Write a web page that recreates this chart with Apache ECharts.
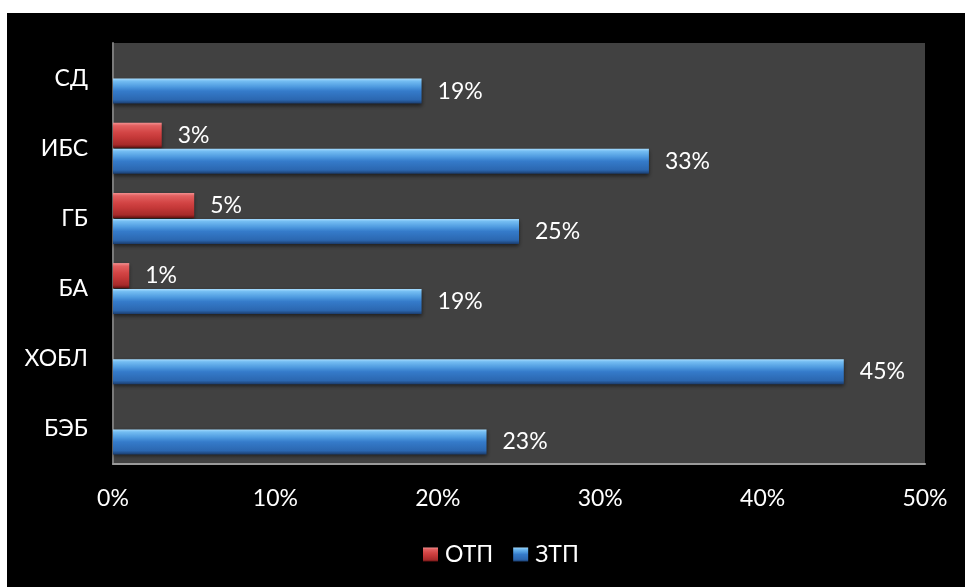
<!DOCTYPE html>
<html>
<head>
<meta charset="utf-8">
<script src="https://cdn.jsdelivr.net/npm/echarts@6/dist/echarts.min.js"></script>
<style>
  html, body { margin: 0; padding: 0; background: #fff; width: 965px; height: 587px; overflow: hidden; }
  #chart { position: absolute; left: 7px; top: 13px; width: 958px; height: 574px; background: #000; }
</style>
</head>
<body>
<div id="chart"></div>
<script>
// Categories listed bottom-to-top along the vertical axis
const categories = ['БЭБ', 'ХОБЛ', 'БА', 'ГБ', 'ИБС', 'СД'];
// Percent values per category (null = no bar)
const otpValues = [null, null, 1, 5, 3, null];
const ztpValues = [23, 45, 19, 25, 33, 19];
const seriesNames = ['ОТП', 'ЗТП'];
const xTickValues = [0, 10, 20, 30, 40, 50];

const FONT = 'Lato, "Open Sans", sans-serif';
const FONT_SIZE = 23;

function vGrad(stops) {
  return new echarts.graphic.LinearGradient(0, 0, 0, 1,
    stops.map(([o, c]) => ({ offset: o, color: c })));
}

const blueFill = vGrad([
  [0, '#a6dcff'], [0.1, '#74bdf2'], [0.32, '#4f9be0'],
  [0.5, '#357bca'], [0.85, '#2b67b0'], [1, '#1b3d6e']
]);
const redFill = vGrad([
  [0, '#f49090'], [0.12, '#e26060'], [0.4, '#d24444'],
  [0.6, '#c43838'], [0.88, '#a62a2a'], [1, '#641212']
]);

const labelStyle = {
  show: true,
  position: 'right',
  distance: 16,
  color: '#ffffff',
  fontFamily: FONT,
  fontSize: FONT_SIZE,
  formatter: p => p.value + '%'
};

const chart = echarts.init(document.getElementById('chart'), null, { renderer: 'canvas' });
chart.setOption({
  backgroundColor: '#000',
  animation: false,
  grid: {
    left: 106, top: 30, right: 40, bottom: 123,
    show: true, backgroundColor: '#414141', borderWidth: 0
  },
  legend: {
    bottom: 16,
    left: 411,
    itemWidth: 15,
    itemHeight: 14,
    itemGap: 20,
    icon: 'rect',
    textStyle: { color: '#fff', fontFamily: FONT, fontSize: FONT_SIZE, padding: [0, 0, 0, 2] },
    data: seriesNames
  },
  xAxis: {
    type: 'value',
    min: xTickValues[0],
    max: xTickValues[xTickValues.length - 1],
    interval: xTickValues[1] - xTickValues[0],
    axisLine: { show: true, lineStyle: { color: '#9a9a9a', width: 2 } },
    axisTick: { show: false },
    splitLine: { show: false },
    axisLabel: {
      color: '#fff', fontFamily: FONT, fontSize: FONT_SIZE, margin: 23,
      formatter: v => v + '%'
    }
  },
  yAxis: {
    type: 'category',
    data: categories,
    axisLine: { show: true, lineStyle: { color: '#7a7a7a', width: 2 } },
    axisTick: { show: false },
    splitLine: { show: false },
    axisLabel: { color: '#fff', fontFamily: FONT, fontSize: FONT_SIZE, margin: 25 }
  },
  series: [
    {
      name: seriesNames[0],
      type: 'bar',
      data: otpValues,
      barWidth: 25,
      barGap: '4%',
      itemStyle: {
        color: redFill,
        shadowColor: 'rgba(0,0,0,0.55)', shadowBlur: 4, shadowOffsetY: 2
      },
      label: labelStyle
    },
    {
      name: seriesNames[1],
      type: 'bar',
      data: ztpValues,
      barWidth: 25,
      itemStyle: {
        color: blueFill,
        shadowColor: 'rgba(0,0,0,0.55)', shadowBlur: 4, shadowOffsetY: 2
      },
      label: labelStyle
    }
  ]
});
</script>
</body>
</html>
